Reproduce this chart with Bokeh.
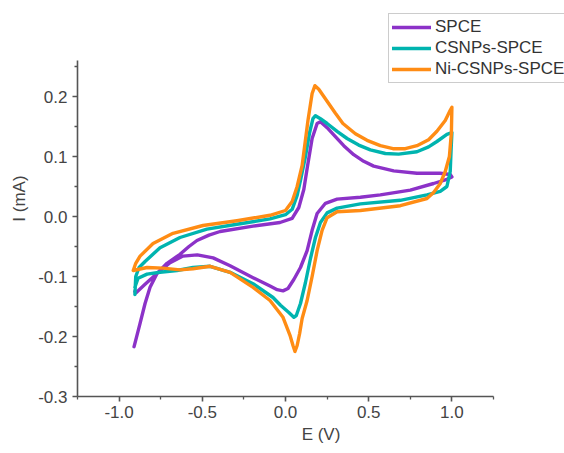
from bokeh.plotting import figure
from bokeh.models import Range1d, FixedTicker, Legend, LegendItem, CustomJSTickFormatter
from bokeh.embed import file_html
from bokeh.resources import INLINE

# ---- data ----
spce_x = [-0.91, -0.874, -0.844, -0.814, -0.772, -0.712, -0.634, -0.58, -0.532, -0.46, -0.393, -0.195, -0.033, 0.04, 0.08, 0.11, 0.13, 0.16, 0.19, 0.21,
          0.25, 0.29, 0.35, 0.41, 0.47, 0.53, 0.65, 0.79, 0.93, 0.99, 1.0,
          0.97, 0.89, 0.75, 0.57, 0.45, 0.31, 0.24, 0.19, 0.16, 0.13, 0.09, 0.05, 0.015, -0.015, -0.05, -0.093,
          -0.195, -0.333, -0.435, -0.53, -0.616, -0.694, -0.772, -0.844, -0.898, -0.905]
spce_y = [-0.217, -0.178, -0.145, -0.118, -0.095, -0.078, -0.063, -0.050, -0.040, -0.031, -0.025, -0.016, -0.010, -0.003, 0.015, 0.045, 0.08, 0.13, 0.155, 0.158,
          0.148, 0.136, 0.118, 0.103, 0.092, 0.084, 0.076, 0.072, 0.072, 0.070, 0.066,
          0.062, 0.055, 0.044, 0.036, 0.032, 0.029, 0.022, 0.005, -0.023, -0.057, -0.085, -0.105, -0.120, -0.124, -0.122, -0.116,
          -0.102, -0.082, -0.069, -0.064, -0.066, -0.077, -0.095, -0.113, -0.127, -0.125]

csnps_x = [-0.905, -0.9, -0.88, -0.844, -0.754, -0.634, -0.472, -0.292, -0.093, 0.0, 0.04, 0.07, 0.09, 0.12, 0.145, 0.165, 0.18,
           0.21, 0.25, 0.31, 0.37, 0.44, 0.51, 0.6, 0.68, 0.79, 0.86, 0.91, 0.97, 1.0,
           0.995, 0.99, 0.97, 0.93, 0.85, 0.69, 0.45, 0.31, 0.25, 0.21, 0.18, 0.15, 0.12, 0.09, 0.065, 0.05, 0.02,
           -0.03, -0.075, -0.195, -0.333, -0.453, -0.556, -0.652, -0.754, -0.832, -0.886, -0.905]
csnps_y = [-0.13, -0.10, -0.085, -0.075, -0.052, -0.035, -0.021, -0.013, -0.004, 0.003, 0.012, 0.035, 0.06, 0.10, 0.14, 0.163, 0.168,
           0.163, 0.155, 0.142, 0.130, 0.119, 0.111, 0.105, 0.104, 0.108, 0.116, 0.125, 0.137, 0.140,
           0.110, 0.075, 0.050, 0.042, 0.036, 0.027, 0.021, 0.014, 0.006, -0.010, -0.035, -0.070, -0.110, -0.145, -0.165, -0.168, -0.160,
           -0.148, -0.135, -0.112, -0.093, -0.083, -0.085, -0.090, -0.093, -0.096, -0.103, -0.118]

ni_x = [-0.915, -0.9, -0.874, -0.796, -0.676, -0.496, -0.292, -0.093, 0.0, 0.04, 0.07, 0.1, 0.135, 0.16, 0.177,
        0.2, 0.25, 0.3, 0.345, 0.42, 0.49, 0.57, 0.646, 0.72, 0.79, 0.86, 0.91, 0.96, 0.99, 1.0,
        0.997, 0.985, 0.96, 0.93, 0.89, 0.85, 0.69, 0.45, 0.31, 0.25, 0.22, 0.19, 0.16, 0.13, 0.1, 0.085, 0.07, 0.057,
        0.045, 0.027, -0.015, -0.093, -0.195, -0.333, -0.453, -0.556, -0.634, -0.736, -0.832, -0.915]
ni_y = [-0.090, -0.078, -0.066, -0.045, -0.028, -0.015, -0.007, 0.002, 0.010, 0.025, 0.050, 0.085, 0.160, 0.205, 0.218,
        0.212, 0.192, 0.172, 0.155, 0.138, 0.127, 0.118, 0.113, 0.113, 0.118, 0.128, 0.142, 0.160, 0.177, 0.182,
        0.140, 0.100, 0.075, 0.055, 0.040, 0.030, 0.018, 0.010, 0.008, -0.002, -0.023, -0.057, -0.100, -0.140, -0.170, -0.195, -0.215, -0.225,
        -0.215, -0.198, -0.168, -0.140, -0.118, -0.093, -0.083, -0.087, -0.089, -0.086, -0.085, -0.090]

series_names = ["SPCE", "CSNPs-SPCE", "Ni-CSNPs-SPCE"]
series_colors = ["#8C32C8", "#00B4AF", "#FF8C14"]

x_ticks = [-1.0, -0.5, 0.0, 0.5, 1.0]
x_minor = [-1.25, -0.75, -0.25, 0.25, 0.75, 1.25]
y_ticks = [-0.3, -0.2, -0.1, 0.0, 0.1, 0.2]
y_minor = [-0.25, -0.15, -0.05, 0.05, 0.15, 0.25]
x_axis_span = (-1.25, 1.25)
y_axis_span = (-0.3, 0.26)

FONT = "Liberation Sans"
TXT = "#444444"

# frame extends to the top and right edges so the legend (which sits partly
# above the axes) is not clipped; axis lines are limited with "bounds"
p = figure(width=564, height=453, output_backend="svg", toolbar_location=None,
           x_range=Range1d(-1.25, 1.6767), y_range=Range1d(-0.3, 0.36),
           min_border_left=77, min_border_right=0, min_border_top=0, min_border_bottom=57)
p.outline_line_color = None
p.xgrid.visible = False
p.ygrid.visible = False
p.background_fill_color = "white"
p.border_fill_color = "white"

renderers = []
for xs, ys, c in [(spce_x, spce_y, series_colors[0]), (csnps_x, csnps_y, series_colors[1]), (ni_x, ni_y, series_colors[2])]:
    r = p.line(xs, ys, line_color=c, line_width=3.4, line_join="round", line_cap="round")
    renderers.append(r)

for ax in (p.xaxis[0], p.yaxis[0]):
    ax.axis_line_color = "#555555"
    ax.axis_line_width = 1.6
    ax.major_tick_line_color = "#555555"
    ax.minor_tick_line_color = "#555555"
    ax.major_tick_line_width = 1.6
    ax.minor_tick_line_width = 1.3
    ax.major_tick_in = 0
    ax.major_tick_out = 5
    ax.minor_tick_in = 0
    ax.minor_tick_out = 3
    ax.major_label_text_font = FONT
    ax.major_label_text_font_size = "17px"
    ax.major_label_text_color = TXT
    ax.axis_label_text_font = FONT
    ax.axis_label_text_font_size = "17px"
    ax.axis_label_text_font_style = "normal"
    ax.axis_label_text_color = TXT

p.xaxis.bounds = x_axis_span
p.yaxis.bounds = y_axis_span
p.xaxis.ticker = FixedTicker(ticks=x_ticks, minor_ticks=x_minor)
p.yaxis.ticker = FixedTicker(ticks=y_ticks, minor_ticks=y_minor)
p.xaxis.formatter = CustomJSTickFormatter(code="return tick.toFixed(1);")
p.yaxis.formatter = CustomJSTickFormatter(code="return tick.toFixed(1);")
p.xaxis.axis_label = "E (V)"
p.yaxis.axis_label = "I (mA)"
p.xaxis.major_label_standoff = 4
p.yaxis.major_label_standoff = 5
p.xaxis.axis_label_standoff = 4
p.yaxis.axis_label_standoff = 6

legend = Legend(items=[LegendItem(label=n, renderers=[r]) for n, r in zip(series_names, renderers)],
                location=(311, 313))
legend.label_text_font = FONT
legend.label_text_font_size = "17px"
legend.label_text_color = "#333333"
legend.border_line_color = "#999999"
legend.border_line_width = 1.2
legend.glyph_width = 39
legend.glyph_height = 20
legend.label_height = 20
legend.spacing = 1
legend.padding = 3
legend.margin = 0
legend.label_standoff = 4
legend.background_fill_alpha = 1
p.add_layout(legend, "center")

open("out.html", "w").write(file_html(p, INLINE))
